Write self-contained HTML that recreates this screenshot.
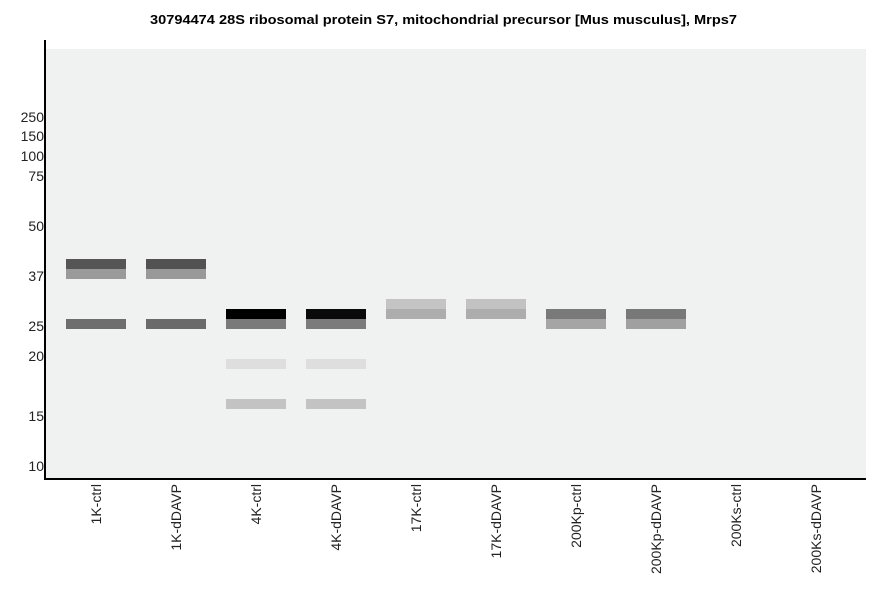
<!DOCTYPE html><html><head><style>body{margin:0;background:#fff}svg{display:block}</style></head><body>
<svg width="886" height="595" xmlns="http://www.w3.org/2000/svg" font-family="Liberation Sans, sans-serif">
<text x="150" y="24" font-size="13" font-weight="bold" textLength="587" lengthAdjust="spacingAndGlyphs">30794474 28S ribosomal protein S7, mitochondrial precursor [Mus musculus], Mrps7</text>
<rect x="46" y="49" width="820" height="430" fill="#f0f1f1"/>
<rect x="44" y="40" width="2" height="440" fill="#000"/>
<rect x="44" y="478" width="822" height="2" fill="#000"/>
<g font-size="14" text-anchor="end" fill="#222">
<text x="44" y="122">250</text><text x="44" y="141">150</text><text x="44" y="161">100</text><text x="44" y="181">75</text><text x="44" y="231">50</text><text x="44" y="281">37</text><text x="44" y="331">25</text><text x="44" y="361">20</text><text x="44" y="421">15</text><text x="44" y="471">10</text>
</g>
<rect x="66" y="259" width="60" height="10" fill="#555"/><rect x="66" y="269" width="60" height="10" fill="#9a9a9a"/><rect x="66" y="319" width="60" height="10" fill="#6e6e6e"/>
<rect x="146" y="259" width="60" height="10" fill="#525252"/><rect x="146" y="269" width="60" height="10" fill="#999"/><rect x="146" y="319" width="60" height="10" fill="#6a6a6a"/>
<rect x="226" y="309" width="60" height="10" fill="#000"/><rect x="226" y="319" width="60" height="10" fill="#7a7a7a"/><rect x="226" y="359" width="60" height="10" fill="#dedede"/><rect x="226" y="399" width="60" height="10" fill="#c3c3c3"/>
<rect x="306" y="309" width="60" height="10" fill="#0a0a0a"/><rect x="306" y="319" width="60" height="10" fill="#7b7b7b"/><rect x="306" y="359" width="60" height="10" fill="#dedede"/><rect x="306" y="399" width="60" height="10" fill="#c3c3c3"/>
<rect x="386" y="299" width="60" height="10" fill="#c4c4c4"/><rect x="386" y="309" width="60" height="10" fill="#adadad"/>
<rect x="466" y="299" width="60" height="10" fill="#c2c2c2"/><rect x="466" y="309" width="60" height="10" fill="#adadad"/>
<rect x="546" y="309" width="60" height="10" fill="#797979"/><rect x="546" y="319" width="60" height="10" fill="#a5a5a5"/>
<rect x="626" y="309" width="60" height="10" fill="#787878"/><rect x="626" y="319" width="60" height="10" fill="#a0a0a0"/>
<g font-size="14" text-anchor="end" fill="#222">
<text transform="translate(101,484) rotate(-90)">1K-ctrl</text>
<text transform="translate(181,484) rotate(-90)">1K-dDAVP</text>
<text transform="translate(261,484) rotate(-90)">4K-ctrl</text>
<text transform="translate(341,484) rotate(-90)">4K-dDAVP</text>
<text transform="translate(421,484) rotate(-90)">17K-ctrl</text>
<text transform="translate(501,484) rotate(-90)">17K-dDAVP</text>
<text transform="translate(581,484) rotate(-90)">200Kp-ctrl</text>
<text transform="translate(661,484) rotate(-90)">200Kp-dDAVP</text>
<text transform="translate(741,484) rotate(-90)">200Ks-ctrl</text>
<text transform="translate(821,484) rotate(-90)">200Ks-dDAVP</text>
</g>
</svg></body></html>
